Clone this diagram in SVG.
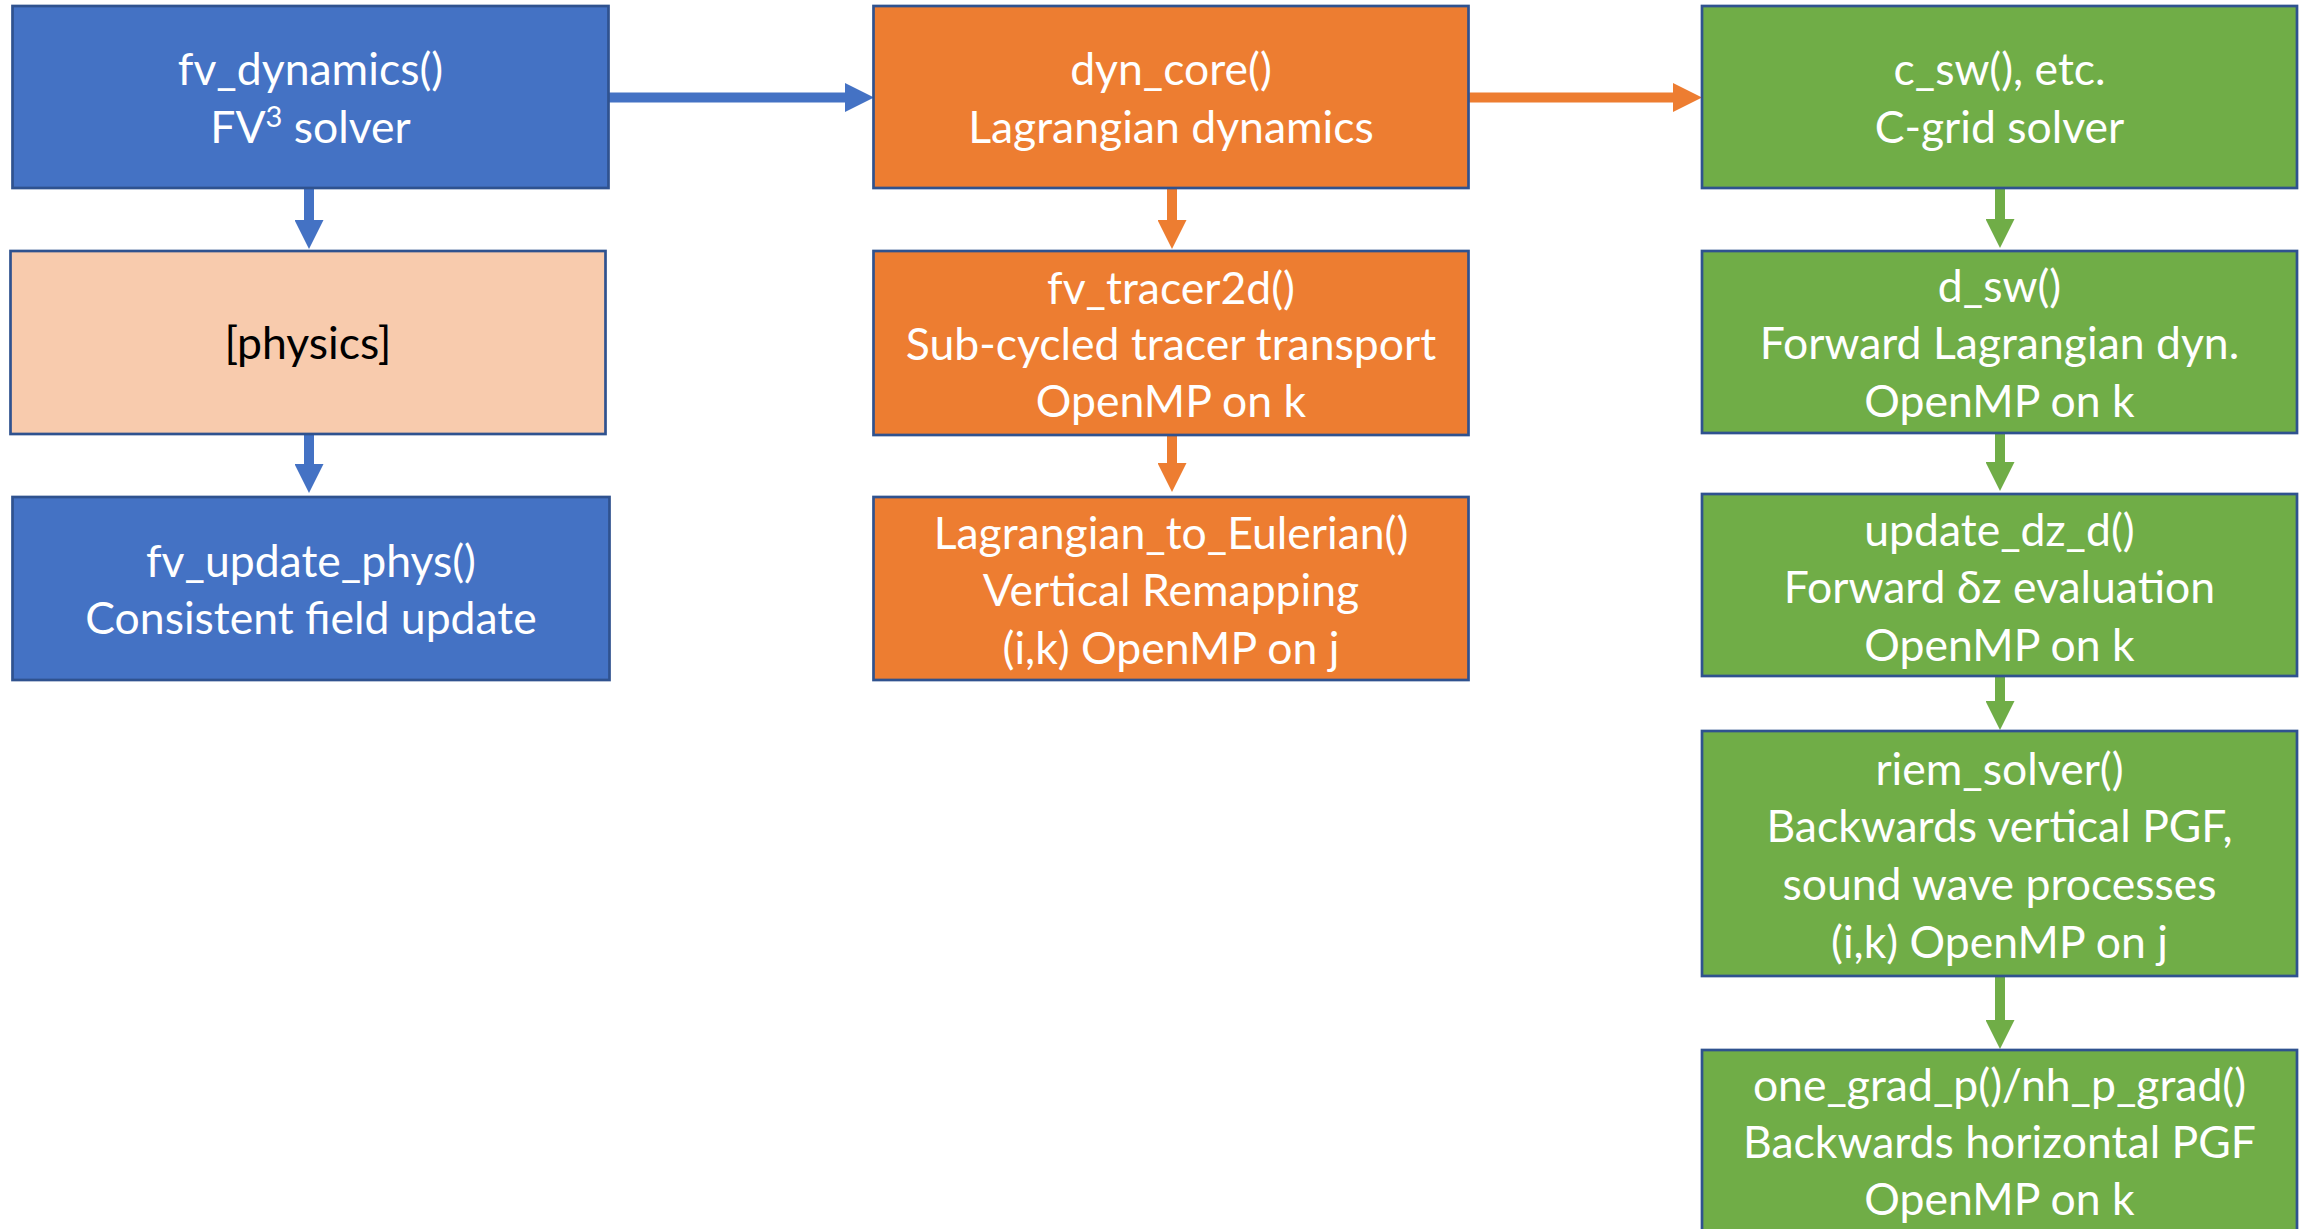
<svg xmlns="http://www.w3.org/2000/svg" width="2310" height="1229" viewBox="0 0 2310 1229">
  <style>
    .box { stroke: #2F528F; stroke-width: 2.7; }
    .blue { fill: #4472C4; }
    .orange { fill: #ED7D31; }
    .green { fill: #70AD47; }
    .peach { fill: #F8CBAD; }
    .lbl { font-family: Lato, "Open Sans", "Liberation Sans", sans-serif; font-size: 44.5px; text-anchor: middle; fill: #FFFFFF; }
    .dark { fill: #000000; }
    .c-blue { stroke: #4472C4; stroke-width: 10; fill: none; }
    .c-orange { stroke: #ED7D31; stroke-width: 10; fill: none; }
    .c-green { stroke: #70AD47; stroke-width: 10; fill: none; }
  </style>
  <defs>
    <marker id="head-blue" viewBox="0 0 29 29" markerWidth="29" markerHeight="29" markerUnits="userSpaceOnUse" refX="0" refY="14.5" orient="auto">
      <path d="M0,0 L29,14.5 L0,29 z" fill="#4472C4"/>
    </marker>
    <marker id="head-orange" viewBox="0 0 29 29" markerWidth="29" markerHeight="29" markerUnits="userSpaceOnUse" refX="0" refY="14.5" orient="auto">
      <path d="M0,0 L29,14.5 L0,29 z" fill="#ED7D31"/>
    </marker>
    <marker id="head-green" viewBox="0 0 29 29" markerWidth="29" markerHeight="29" markerUnits="userSpaceOnUse" refX="0" refY="14.5" orient="auto">
      <path d="M0,0 L29,14.5 L0,29 z" fill="#70AD47"/>
    </marker>
  </defs>

  <rect width="2310" height="1229" fill="#FFFFFF"/>

  <!-- connectors -->
  <g id="connectors">
    <line class="c-blue" x1="609" y1="97.5" x2="845" y2="97.5" marker-end="url(#head-blue)"/>
    <line class="c-blue" x1="309" y1="189" x2="309" y2="220" marker-end="url(#head-blue)"/>
    <line class="c-blue" x1="309" y1="434" x2="309" y2="464" marker-end="url(#head-blue)"/>
    <line class="c-orange" x1="1469" y1="97.5" x2="1673" y2="97.5" marker-end="url(#head-orange)"/>
    <line class="c-orange" x1="1172" y1="189" x2="1172" y2="220" marker-end="url(#head-orange)"/>
    <line class="c-orange" x1="1172" y1="435" x2="1172" y2="463" marker-end="url(#head-orange)"/>
    <line class="c-green" x1="2000" y1="189" x2="2000" y2="219" marker-end="url(#head-green)"/>
    <line class="c-green" x1="2000" y1="433" x2="2000" y2="462" marker-end="url(#head-green)"/>
    <line class="c-green" x1="2000" y1="676" x2="2000" y2="701" marker-end="url(#head-green)"/>
    <line class="c-green" x1="2000" y1="977" x2="2000" y2="1020" marker-end="url(#head-green)"/>
  </g>

  <!-- left column -->
  <g id="fv_dynamics">
    <rect class="box blue" x="12.5" y="6" width="596" height="182"/>
    <text class="lbl" x="310.5" y="85">fv_dynamics()</text>
    <text class="lbl" x="310.5" y="143">FV<tspan font-size="29" baseline-shift="55%">3</tspan> solver</text>
  </g>
  <g id="physics">
    <rect class="box peach" x="10.5" y="251" width="595" height="183"/>
    <text class="lbl dark" x="308" y="359">[physics]</text>
  </g>
  <g id="fv_update_phys">
    <rect class="box blue" x="12.5" y="497" width="597" height="183"/>
    <text class="lbl" x="311" y="577">fv_update_phys()</text>
    <text class="lbl" x="311" y="634">Consistent field update</text>
  </g>

  <!-- middle column -->
  <g id="dyn_core">
    <rect class="box orange" x="873.5" y="6" width="595" height="182"/>
    <text class="lbl" x="1171" y="85">dyn_core()</text>
    <text class="lbl" x="1171" y="143">Lagrangian dynamics</text>
  </g>
  <g id="fv_tracer2d">
    <rect class="box orange" x="873.5" y="251" width="595" height="184"/>
    <text class="lbl" x="1171" y="304">fv_tracer2d()</text>
    <text class="lbl" x="1171" y="360">Sub-cycled tracer transport</text>
    <text class="lbl" x="1171" y="417">OpenMP on k</text>
  </g>
  <g id="lagrangian_to_eulerian">
    <rect class="box orange" x="873.5" y="497" width="595" height="183"/>
    <text class="lbl" x="1171" y="549">Lagrangian_to_Eulerian()</text>
    <text class="lbl" x="1171" y="606">Vertical Remapping</text>
    <text class="lbl" x="1171" y="664">(i,k) OpenMP on j</text>
  </g>

  <!-- right column -->
  <g id="c_sw">
    <rect class="box green" x="1702" y="6" width="595" height="182"/>
    <text class="lbl" x="1999.5" y="85">c_sw(), etc.</text>
    <text class="lbl" x="1999.5" y="143">C-grid solver</text>
  </g>
  <g id="d_sw">
    <rect class="box green" x="1702" y="251" width="595" height="182"/>
    <text class="lbl" x="1999.5" y="302">d_sw()</text>
    <text class="lbl" x="1999.5" y="359">Forward Lagrangian dyn.</text>
    <text class="lbl" x="1999.5" y="417">OpenMP on k</text>
  </g>
  <g id="update_dz_d">
    <rect class="box green" x="1702" y="494" width="595" height="182"/>
    <text class="lbl" x="1999.5" y="546">update_dz_d()</text>
    <text class="lbl" x="1999.5" y="603">Forward δz evaluation</text>
    <text class="lbl" x="1999.5" y="661">OpenMP on k</text>
  </g>
  <g id="riem_solver">
    <rect class="box green" x="1702" y="731" width="595" height="245"/>
    <text class="lbl" x="1999.5" y="785">riem_solver()</text>
    <text class="lbl" x="1999.5" y="842">Backwards vertical PGF,</text>
    <text class="lbl" x="1999.5" y="900">sound wave processes</text>
    <text class="lbl" x="1999.5" y="958">(i,k) OpenMP on j</text>
  </g>
  <g id="one_grad_p">
    <rect class="box green" x="1702" y="1050" width="595" height="190"/>
    <text class="lbl" x="1999.5" y="1101">one_grad_p()/nh_p_grad()</text>
    <text class="lbl" x="1999.5" y="1158">Backwards horizontal PGF</text>
    <text class="lbl" x="1999.5" y="1215">OpenMP on k</text>
  </g>
</svg>
